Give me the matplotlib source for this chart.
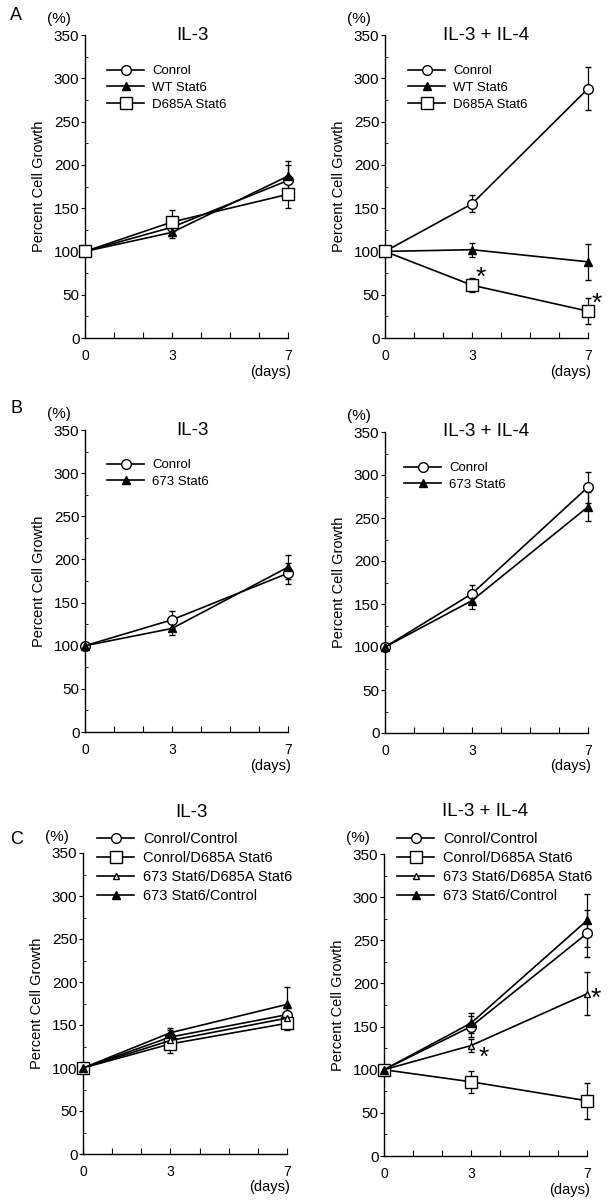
import matplotlib
matplotlib.use("Agg")
import matplotlib.pyplot as plt
from matplotlib.lines import Line2D
from matplotlib.ticker import MultipleLocator

plt.rcParams["font.family"] = ["Liberation Sans", "DejaVu Sans"]

days = [0, 3, 7]

# Panel A
a_labels = ["Conrol", "WT Stat6", "D685A Stat6"]
a_il3 = [[100, 128, 182], [100, 122, 187], [100, 134, 166]]
a_il3_err = [[0, 8, 18], [0, 6, 18], [0, 14, 16]]
a_il34 = [[100, 155, 288], [100, 102, 88], [100, 61, 31]]
a_il34_err = [[0, 10, 25], [0, 8, 21], [0, 8, 15]]
a_stars = [(3, 61), (7, 31)]

# Panel B
b_labels = ["Conrol", "673 Stat6"]
b_il3 = [[100, 130, 184], [100, 120, 191]]
b_il3_err = [[0, 10, 12], [0, 8, 14]]
b_il34 = [[100, 162, 286], [100, 154, 263]]
b_il34_err = [[0, 10, 18], [0, 10, 17]]

# Panel C
c_labels = ["Conrol/Control", "Conrol/D685A Stat6", "673 Stat6/D685A Stat6", "673 Stat6/Control"]
c_il3 = [[100, 136, 162], [100, 128, 152], [100, 132, 158], [100, 141, 174]]
c_il3_err = [[0, 8, 10], [0, 10, 8], [0, 8, 12], [0, 6, 20]]
c_il34 = [[100, 150, 258], [100, 86, 64], [100, 128, 188], [100, 154, 273]]
c_il34_err = [[0, 12, 27], [0, 13, 21], [0, 8, 25], [0, 12, 31]]
c_stars = [(3, 128), (7, 188)]

# where each asterisk sits relative to its point (points)
a_star_offsets = [(6.5, 5.5), (6.5, 5.5)]
c_star_offsets = [(9.5, -8.5), (6.0, -4.0)]

open_circle = dict(marker="o", mfc="white", ms=7)
filled_tri = dict(marker="^", mfc="black", ms=5.5)
open_square = dict(marker="s", mfc="white", ms=8)
open_tri = dict(marker="^", mfc="white", ms=5)

a_styles = [open_circle, filled_tri, open_square]
b_styles = [open_circle, filled_tri]
c_styles = [open_circle, open_square, open_tri, filled_tri]

W, H = 608, 1200
fig = plt.figure(figsize=(W / 100, H / 100), dpi=100)


def make_axes(x0, x1, top, bottom):
    return fig.add_axes([x0 / W, 1 - bottom / H, (x1 - x0) / W, (bottom - top) / H])


def draw_panel(ax, series, errors, labels, styles, title, title_xy, legend_anchor,
               legend_size=9.5, stars=(), star_offsets=()):
    for vals, err, lab, st in zip(series, errors, labels, styles):
        ax.errorbar(days, vals, yerr=err, color="black", lw=1.2, mec="black",
                    mew=1.0, capsize=2.5, elinewidth=0.9, clip_on=False,
                    zorder=3, **st)
    handles = [Line2D([], [], color="black", lw=1.2, mec="black", mew=1.0, **st)
               for st in styles]
    hl = 37 / (legend_size * 100 / 72)
    ax.legend(handles, labels, loc="upper left", bbox_to_anchor=legend_anchor,
              bbox_transform=fig.transFigure, frameon=False, fontsize=legend_size,
              handlelength=hl, handletextpad=0.6, labelspacing=0.35,
              borderpad=0, borderaxespad=0, numpoints=1)
    for (x, y), off in zip(stars, star_offsets):
        ax.annotate("*", (x, y), xytext=off, textcoords="offset points",
                    fontsize=19, ha="center", va="center")
    ax.set_xlim(0, 7)
    ax.set_ylim(0, 350)
    for side in ("top", "right"):
        ax.spines[side].set_visible(False)
    ax.spines["left"].set_linewidth(1.0)
    ax.spines["bottom"].set_linewidth(1.0)
    ax.set_xticks(range(8))
    ax.set_xticklabels(["0", "", "", "3", "", "", "", "7"])
    ax.tick_params(axis="x", direction="in", length=4, labelsize=10, pad=8)
    ax.yaxis.set_major_locator(MultipleLocator(50))
    ax.yaxis.set_minor_locator(MultipleLocator(25))
    ax.tick_params(axis="y", which="major", direction="out", length=3, labelsize=11, pad=1)
    ax.tick_params(axis="y", which="minor", direction="in", length=2)
    ax.set_ylabel("Percent Cell Growth", fontsize=10.5, labelpad=6)
    ax.text(7.1, -0.088, "(days)", transform=ax.get_xaxis_transform(),
            ha="right", va="top", fontsize=10.5)
    ax.text(-0.13, 1.03, "(%)", transform=ax.transAxes, ha="center", va="bottom",
            fontsize=11)
    ax.text(title_xy[0], title_xy[1], title, transform=ax.transAxes, ha="center",
            va="center", fontsize=13.5)


ax = make_axes(85, 288, 35, 338)
draw_panel(ax, a_il3, a_il3_err, a_labels, a_styles, "IL-3", (0.53, 1.0), (107 / W, 1 - 65 / H))
fig.text(10 / W, 1 - 15 / H, "A", fontsize=13, va="center")
ax = make_axes(385, 588, 35, 338)
draw_panel(ax, a_il34, a_il34_err, a_labels, a_styles, "IL-3 + IL-4", (0.5, 1.0),
           (408 / W, 1 - 65 / H), stars=a_stars, star_offsets=a_star_offsets)

ax = make_axes(85, 288, 430, 732)
draw_panel(ax, b_il3, b_il3_err, b_labels, b_styles, "IL-3", (0.53, 1.0), (107 / W, 1 - 459 / H))
fig.text(10 / W, 1 - 408 / H, "B", fontsize=13, va="center")
ax = make_axes(385, 588, 432, 733)
draw_panel(ax, b_il34, b_il34_err, b_labels, b_styles, "IL-3 + IL-4", (0.5, 1.0),
           (404 / W, 1 - 462 / H))

ax = make_axes(83, 287, 853, 1154)
draw_panel(ax, c_il3, c_il3_err, c_labels, c_styles, "IL-3", (0.53, 1.135),
           (97 / W, 1 - 832 / H), legend_size=10.5)
fig.text(10 / W, 1 - 840 / H, "C", fontsize=13, va="center")
ax = make_axes(384, 587, 854, 1156)
draw_panel(ax, c_il34, c_il34_err, c_labels, c_styles, "IL-3 + IL-4", (0.5, 1.14),
           (397 / W, 1 - 832 / H), legend_size=10.5, stars=c_stars,
           star_offsets=c_star_offsets)

fig.savefig("out.png", dpi=100)
